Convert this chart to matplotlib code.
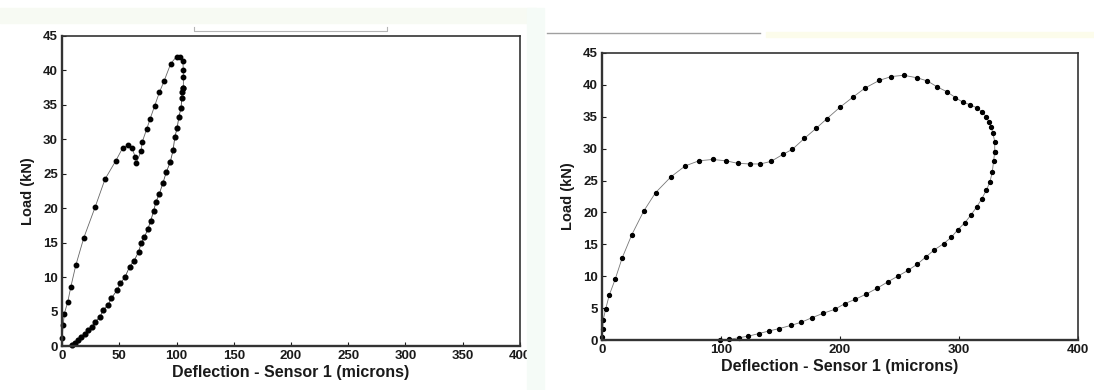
import matplotlib.pyplot as plt
from matplotlib.patches import Rectangle
from matplotlib.lines import Line2D

# ==========================================
# DATA
# ==========================================
# Left specimen - loading branch
left_load_x = [0, 1, 2, 5, 7.7, 12, 19, 29, 37.5, 47, 53, 58, 61, 64, 65,
               69, 70, 74, 77, 81, 85, 89, 95, 100, 103, 105.5, 106, 106, 106]
left_load_y = [1.1, 3, 4.7, 6.4, 8.6, 11.7, 15.7, 20.2, 24.2, 26.9, 28.75, 29.2,
               28.8, 27.4, 26.6, 28.3, 29.6, 31.5, 33, 34.9, 36.8, 38.4, 41, 42,
               42, 41.4, 40, 39, 37.5]

# Left specimen - unloading branch
left_unload_x = [106, 105, 104.6, 104, 102, 100.6, 98.5, 97, 94.5, 91, 88, 85,
                 82, 80, 77.5, 75, 72, 69, 67, 63, 59, 55, 51, 48, 43, 40, 36,
                 33, 29, 26, 23, 20, 17, 14, 11.7, 9]
left_unload_y = [37.5, 36.8, 36, 34.6, 33.2, 31.7, 30.3, 28.4, 26.7, 25.2, 23.6,
                 22.1, 20.9, 19.6, 18.2, 17, 15.8, 14.9, 13.7, 12.4, 11.5, 10,
                 9.1, 8.1, 6.9, 5.9, 5.2, 4.2, 3.5, 2.8, 2.3, 1.8, 1.35, 0.9,
                 0.4, 0.15]

# Right specimen - loading branch
right_load_x = [0, 0.6, 1, 3, 6, 11, 17, 25, 35, 45, 58, 70, 81.5, 93, 104, 114,
                124, 133, 142, 152, 160, 170, 180, 189, 200, 211, 221, 233, 243,
                253.5, 265, 273.5, 281.5, 290, 297, 303, 309, 315, 319, 323, 325,
                327, 328.5, 330, 330]
right_load_y = [0.4, 1.7, 3.2, 4.8, 7, 9.5, 12.9, 16.5, 20.2, 23.1, 25.6, 27.3,
                28.1, 28.3, 28.1, 27.7, 27.6, 27.6, 28, 29.1, 29.9, 31.6, 33.2,
                34.7, 36.5, 38.1, 39.5, 40.7, 41.3, 41.5, 41.1, 40.6, 39.7, 38.9,
                38, 37.3, 36.9, 36.4, 35.8, 35, 34.2, 33.4, 32.4, 31.1, 29.5]

# Right specimen - unloading branch
right_unload_x = [330, 329, 328, 326, 323, 319, 315, 310, 305, 299, 293.5, 287,
                  279, 272, 265, 257, 248.5, 240, 231, 222, 213, 204, 195.5, 186,
                  176.5, 167.6, 159, 149, 140, 131.5, 123, 115, 107, 99]
right_unload_y = [29.5, 28, 26.4, 24.8, 23.5, 22.1, 20.9, 19.6, 18.4, 17.3, 16.1,
                  15.1, 14.1, 13, 11.9, 10.9, 10, 9.1, 8.1, 7.2, 6.4, 5.7, 4.8,
                  4.2, 3.5, 2.8, 2.3, 1.8, 1.4, 1.0, 0.6, 0.36, 0.1, 0]

x_ticks = [0, 50, 100, 150, 200, 250, 300, 350, 400]
x_ticks_right = [0, 100, 200, 300, 400]
y_ticks = [0, 5, 10, 15, 20, 25, 30, 35, 40, 45]

plt.rcParams['font.family'] = ['Liberation Sans', 'DejaVu Sans']
plt.rcParams['font.weight'] = 'bold'

fig = plt.figure(figsize=(10.94, 3.90), dpi=100)

# faint scan artefacts around the two panels
fig.patches.append(Rectangle((0.0, 0.94), 0.49, 0.04, transform=fig.transFigure,
                             color='#f7faf3', zorder=0))
fig.patches.append(Rectangle((0.482, 0.0), 0.015, 0.98, transform=fig.transFigure,
                             color='#f5fbf7', zorder=0))
fig.patches.append(Rectangle((0.70, 0.905), 0.30, 0.012, transform=fig.transFigure,
                             color='#fcfceb', zorder=0))
fig.lines.append(Line2D([0.5, 0.695], [0.915, 0.915], transform=fig.transFigure,
                        color='#a0a0a0', lw=1.0))
fig.lines.append(Line2D([0.177, 0.177, 0.354, 0.354], [0.93, 0.92, 0.92, 0.93],
                        transform=fig.transFigure, color='#b5b5b5', lw=0.8))


def style_axes(ax, xt):
    ax.set_xlim(0, 400)
    ax.set_ylim(0, 45)
    ax.set_xticks(xt)
    ax.set_yticks(y_ticks)
    ax.tick_params(direction='in', length=3, width=0.8, labelsize=9.5,
                   pad=3, colors='#1a1a1a')
    for side, sp in ax.spines.items():
        sp.set_color('#333333')
        sp.set_linewidth(1.7 if side in ('left', 'bottom') else 1.2)
    ax.set_xlabel("Deflection - Sensor 1 (microns)", fontsize=11.5,
                  fontweight='bold', labelpad=2, color='#1a1a1a')
    ax.set_ylabel("Load (kN)", fontsize=10.5, fontweight='bold', labelpad=6,
                  color='#1a1a1a')


# ==========================================
# LEFT PANEL
# ==========================================
ax1 = fig.add_axes([0.0567, 0.1128, 0.4186, 0.795])
ax1.plot(left_load_x, left_load_y, color='#666666', lw=0.6, marker='o',
         ms=3.2, mfc='black', mec='black', clip_on=False)
ax1.plot(left_unload_x, left_unload_y, color='#444444', lw=0.6, marker='o',
         ms=3.4, mfc='black', mec='black', clip_on=False)
style_axes(ax1, x_ticks)

# ==========================================
# RIGHT PANEL
# ==========================================
ax2 = fig.add_axes([0.5503, 0.1282, 0.4351, 0.736])
ax2.plot(right_load_x, right_load_y, color='#777777', lw=0.6, marker='o',
         ms=2.8, mfc='black', mec='black', clip_on=False)
ax2.plot(right_unload_x, right_unload_y, color='#777777', lw=0.6, marker='o',
         ms=2.8, mfc='black', mec='black', clip_on=False)
style_axes(ax2, x_ticks_right)

plt.savefig("out.png", dpi=100)
